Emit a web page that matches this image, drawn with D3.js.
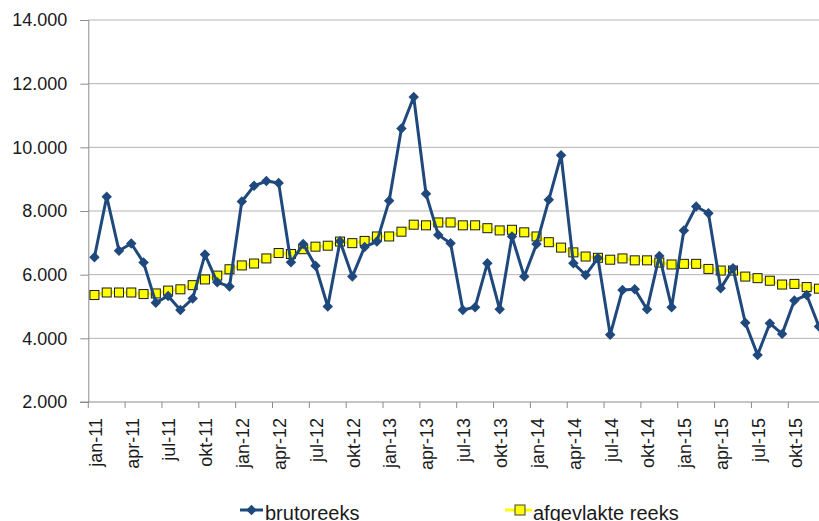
<!DOCTYPE html>
<html>
<head>
<meta charset="utf-8">
<script src="https://cdn.jsdelivr.net/npm/d3@7"></script>
<style>
  html, body { margin: 0; padding: 0; background: #fff; overflow: hidden; }
  text { font-family: "Liberation Sans", Arial, sans-serif; fill: #1a1a1a; }
</style>
</head>
<body>
<div id="chart"></div>
<script>
// months jan-11 .. dec-15
const monthNames = ['jan', 'feb', 'mrt', 'apr', 'mei', 'jun', 'jul', 'aug', 'sep', 'okt', 'nov', 'dec']
const years = ['11', '12', '13', '14', '15']
const months = []
years.forEach(y => monthNames.forEach(m => months.push(m + '-' + y)))

const brutoreeks = [
  6550, 8450, 6750, 6980, 6380, 5120, 5330, 4890, 5250, 6630, 5760, 5630,
  8300, 8790, 8940, 8880, 6390, 6960, 6280, 5000, 7050, 5940, 6870, 7040,
  8320, 10590, 11580, 8540, 7250, 6990, 4890, 4980, 6360, 4910, 7200, 5940,
  6960, 8350, 9750, 6360, 5990, 6520, 4110, 5520, 5540, 4910, 6590, 4980,
  7390, 8140, 7930, 5570, 6200, 4490, 3480, 4470, 4140, 5190, 5360, 4370
]
const afgevlakt = [
  5360, 5440, 5440, 5440, 5390, 5410, 5500, 5540, 5670, 5850, 5970, 6170,
  6290, 6350, 6510, 6680, 6650, 6800, 6880, 6910, 7040, 6990, 7060, 7200,
  7200, 7350, 7570, 7550, 7640, 7640, 7550, 7550, 7460, 7390, 7410, 7330,
  7200, 7020, 6850, 6700, 6570, 6530, 6470, 6510, 6450, 6450, 6380, 6320,
  6340, 6340, 6180, 6130, 6130, 5940, 5890, 5810, 5690, 5710, 5610, 5560
]
const yTicks = [2000, 4000, 6000, 8000, 10000, 12000, 14000]

const width = 819, height = 521
const margin = { top: 20, left: 88.3, bottom: 402 }
const plotRight = 88.3 + 60 * 12.28

const svg = d3.select('#chart').append('svg')
  .attr('width', width)
  .attr('height', height)

const x = d3.scaleBand().domain(months).range([margin.left, plotRight]).padding(0)
const y = d3.scaleLinear().domain([2000, 14000]).range([margin.bottom, margin.top])
const fmt = d => d3.format(',')(d).replace(/,/g, '.')

// gridlines
svg.append('g')
  .selectAll('line')
  .data(yTicks.slice(1))
  .enter().append('line')
  .attr('x1', margin.left).attr('x2', plotRight)
  .attr('y1', d => y(d)).attr('y2', d => y(d))
  .attr('stroke', '#b4b4b4').attr('stroke-width', 1)

// y axis
const yAxis = svg.append('g')
  .attr('transform', 'translate(' + margin.left + ',0)')
  .call(d3.axisLeft(y).tickValues(yTicks).tickFormat(fmt).tickSize(8).tickPadding(13))
yAxis.select('.domain').attr('stroke', '#8c8c8c')
yAxis.selectAll('.tick line').attr('stroke', '#8c8c8c')
yAxis.selectAll('.tick text')
  .style('font-size', '18px')
  .style('font-family', '"Liberation Sans", Arial, sans-serif')
  .attr('fill', '#1a1a1a')

// x axis
const xg = svg.append('g')
xg.append('line')
  .attr('x1', margin.left - 8).attr('x2', plotRight)
  .attr('y1', margin.bottom).attr('y2', margin.bottom)
  .attr('stroke', '#8c8c8c')
const quarterly = months.filter((m, i) => i % 3 === 0)
xg.selectAll('.xt')
  .data(quarterly)
  .enter().append('line')
  .attr('x1', d => x(d)).attr('x2', d => x(d))
  .attr('y1', margin.bottom).attr('y2', margin.bottom + 6)
  .attr('stroke', '#8c8c8c')
xg.selectAll('.xl')
  .data(quarterly)
  .enter().append('text')
  .attr('transform', d => 'translate(' + (x(d) + x.bandwidth() / 2 + 1) + ',' + (margin.bottom + 16) + ') rotate(-90)')
  .attr('text-anchor', 'end')
  .attr('dy', '0.35em')
  .style('font-size', '18px')
  .text(d => d)

const cx = (d, i) => x(months[i]) + x.bandwidth() / 2

// smoothed series
svg.append('path')
  .datum(afgevlakt)
  .attr('fill', 'none')
  .attr('stroke', '#ffff00')
  .attr('stroke-width', 3)
  .attr('d', d3.line().x(cx).y(d => y(d)))

svg.append('g')
  .selectAll('rect')
  .data(afgevlakt)
  .enter().append('rect')
  .attr('x', (d, i) => cx(d, i) - 4.5)
  .attr('y', d => y(d) - 4.5)
  .attr('width', 9).attr('height', 9)
  .attr('fill', '#ffff00')
  .attr('stroke', '#1a1a1a')
  .attr('stroke-width', 1)

// raw series
const blue = '#1f497d'
svg.append('path')
  .datum(brutoreeks)
  .attr('fill', 'none')
  .attr('stroke', blue)
  .attr('stroke-width', 3)
  .attr('stroke-linejoin', 'round')
  .attr('d', d3.line().x(cx).y(d => y(d)))

const diamond = d3.symbol().type(d3.symbolDiamond2).size(70)
svg.append('g')
  .selectAll('path')
  .data(brutoreeks)
  .enter().append('path')
  .attr('d', diamond)
  .attr('transform', (d, i) => 'translate(' + cx(d, i) + ',' + y(d) + ')')
  .attr('fill', blue)

// legend
const lg = svg.append('g')
lg.append('line')
  .attr('x1', 240).attr('x2', 263).attr('y1', 510).attr('y2', 510)
  .attr('stroke', blue).attr('stroke-width', 3)
lg.append('path')
  .attr('d', diamond)
  .attr('transform', 'translate(251.5,510)')
  .attr('fill', blue)
lg.append('text')
  .attr('x', 265).attr('y', 520)
  .style('font-size', '20px')
  .text('brutoreeks')

lg.append('line')
  .attr('x1', 505).attr('x2', 532).attr('y1', 510).attr('y2', 510)
  .attr('stroke', '#ffff00').attr('stroke-width', 3)
lg.append('rect')
  .attr('x', 515).attr('y', 505).attr('width', 10).attr('height', 10)
  .attr('fill', '#ffff00').attr('stroke', '#404040')
lg.append('text')
  .attr('x', 533).attr('y', 520)
  .style('font-size', '20px')
  .text('afgevlakte reeks')
</script>
</body>
</html>
